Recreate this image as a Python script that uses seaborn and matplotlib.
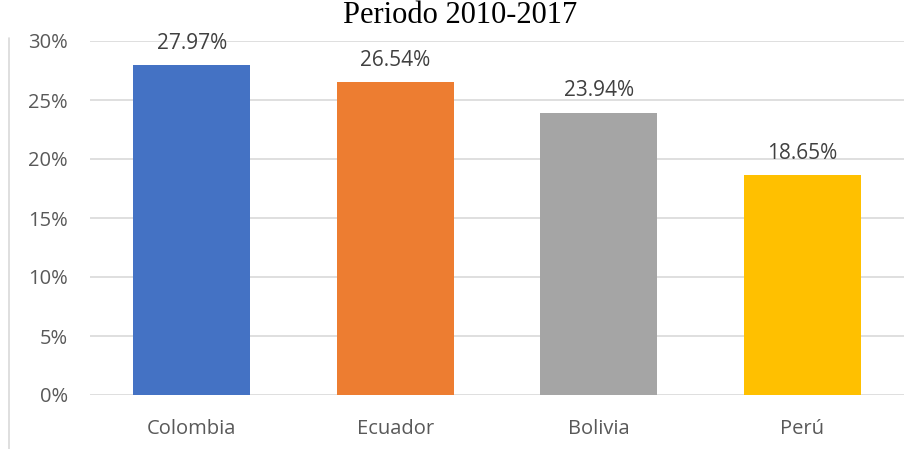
import numpy as np
import pandas as pd
import seaborn as sns
import matplotlib.pyplot as plt
from matplotlib.lines import Line2D
from matplotlib.ticker import PercentFormatter

paises = ["Colombia", "Ecuador", "Bolivia", "Perú"]
valores = [27.97, 26.54, 23.94, 18.65]
colores = ["#4472C4", "#ED7D31", "#A5A5A5", "#FFC000"]
titulo = "Periodo 2010-2017"

df = pd.DataFrame({"pais": paises, "valor": valores})

sns.set_style("white")
plt.rcParams["font.family"] = ["Open Sans", "DejaVu Sans"]

fig = plt.figure(figsize=(9.2, 4.49), dpi=100)
ax = fig.add_axes([90 / 920, 1 - 395 / 449, 814 / 920, 354 / 449])

sns.barplot(data=df, x="pais", y="valor", hue="pais", palette=colores,
            saturation=1, width=0.575, linewidth=0, legend=False, ax=ax, zorder=3)

ax.set_ylim(0, 30)
ax.set_yticks(np.arange(0, 31, 5))
ax.yaxis.set_major_formatter(PercentFormatter(decimals=0))
ax.grid(axis="y", color="#D9D9D9", linewidth=1.2, zorder=0)
ax.set_axisbelow(True)
for s in ax.spines.values():
    s.set_visible(False)
ax.set_xlabel("")
ax.set_ylabel("")
ax.tick_params(axis="both", length=0, labelsize=14.5, labelcolor="#595959")
ax.tick_params(axis="x", pad=17)
ax.tick_params(axis="y", pad=16)

for i, v in enumerate(valores):
    ax.annotate(f"{v:.2f}%", (i, v), xytext=(0, 8), textcoords="offset points",
                ha="center", va="bottom", fontsize=15, color="#404040")

fig.text(0.5, 1 - 23 / 449, titulo, ha="center", va="baseline",
         fontsize=22, family="Liberation Serif", color="black")
fig.add_artist(Line2D([8.5 / 920, 8.5 / 920], [0, 1 - 38 / 449],
                      transform=fig.transFigure, color="#D9D9D9", linewidth=1.2))

fig.savefig("out.png", dpi=100)
